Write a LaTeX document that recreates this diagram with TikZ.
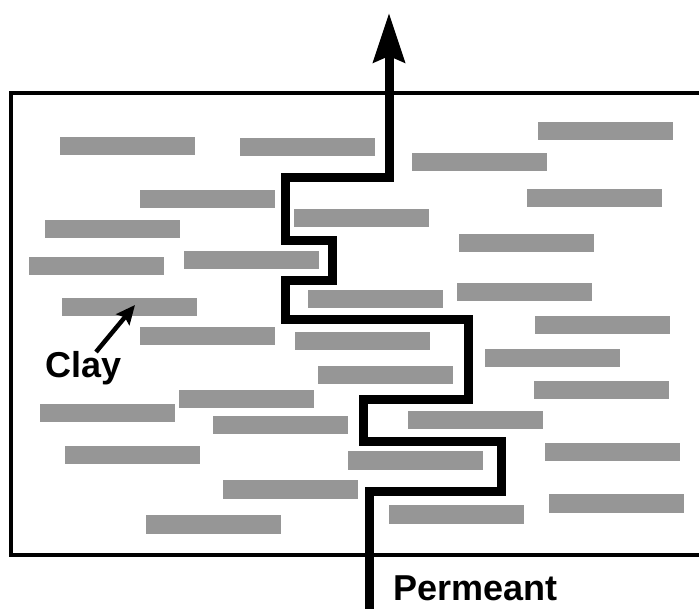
\documentclass[tikz,border=0pt]{standalone}
\usepackage{fontspec}
\setmainfont{Liberation Sans}
\usetikzlibrary{arrows.meta}
\definecolor{claygray}{RGB}{150,150,150}
\tikzset{
  claybar/.style={fill=claygray},
  frameline/.style={line width=3.5pt, black},
  flowpath/.style={line width=9pt, black, line join=miter,
    -{Stealth[length=49pt,width=31pt,inset=6pt]}},
  labeltext/.style={font=\fontsize{36}{40}\selectfont\bfseries, inner sep=0pt, anchor=base west},
  pointer/.style={line width=4.5pt, -{Stealth[length=19pt,width=17pt,inset=3pt]}}
}
\newcommand{\claybox}[2]{\fill[claybar] (#1,#2) rectangle ++(135,18.5);}
\begin{document}
\begin{tikzpicture}[x=1pt,y=-1pt]
\useasboundingbox (0,0) rectangle (699,609);
% frame (right side runs off the picture)
\draw[frameline] (710,93) -| (11,555) -- (710,555);
% clay platelets
\claybox{60}{137}
\claybox{240}{138}
\claybox{538}{122}
\claybox{412}{153}
\claybox{140}{190}
\claybox{527}{189}
\claybox{294}{209}
\claybox{45}{220}
\claybox{459}{234}
\claybox{29}{257}
\claybox{184}{251}
\claybox{308}{290}
\claybox{457}{283}
\claybox{62}{298}
\claybox{140}{327}
\claybox{535}{316}
\claybox{295}{332}
\claybox{485}{349}
\claybox{318}{366}
\claybox{534}{381}
\claybox{179}{390}
\claybox{40}{404}
\claybox{213}{416}
\claybox{408}{411}
\claybox{65}{446}
\claybox{545}{443}
\claybox{348}{451}
\claybox{223}{480}
\claybox{549}{494}
\claybox{389}{505}
\claybox{146}{515}
% labels
\node[labeltext] (clay) at (45,378) {Clay};
\node[labeltext] (perm) at (393,600) {Permeant};
\coordinate (clayfrom) at (96,352);
\coordinate (claytip) at (135,305);
\draw[pointer] (clayfrom) -- (claytip);
% permeant path
\coordinate (p0) at (369,612);
\coordinate (p1) at (369,491);
\coordinate (p2) at (501,491);
\coordinate (p3) at (501,442);
\coordinate (p4) at (363,442);
\coordinate (p5) at (363,400);
\coordinate (p6) at (468,400);
\coordinate (p7) at (468,320);
\coordinate (p8) at (285,320);
\coordinate (p9) at (285,281);
\coordinate (p10) at (332,281);
\coordinate (p11) at (332,241);
\coordinate (p12) at (285,241);
\coordinate (p13) at (285,178);
\coordinate (p14) at (389,178);
\coordinate (ptip) at (389,13);
\draw[flowpath] (p0) -- (p1) -- (p2) -- (p3) -- (p4) -- (p5) -- (p6) -- (p7) -- (p8)
  -- (p9) -- (p10) -- (p11) -- (p12) -- (p13) -- (p14) -- (ptip);
\end{tikzpicture}
\end{document}
